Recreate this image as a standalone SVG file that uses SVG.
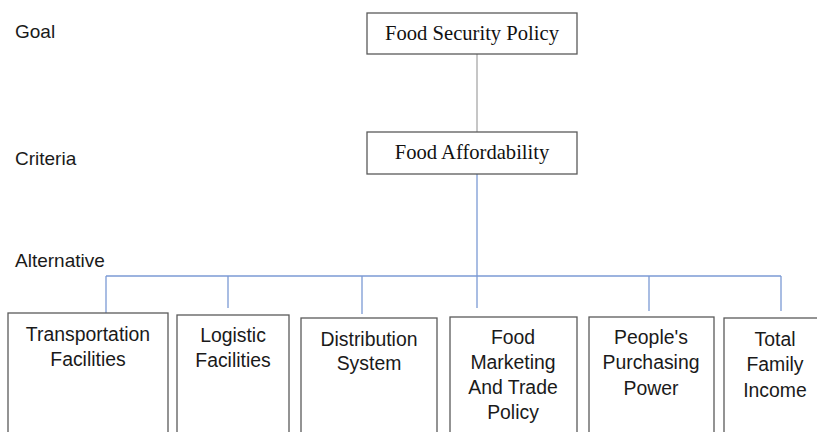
<svg xmlns="http://www.w3.org/2000/svg" width="817" height="432" viewBox="0 0 817 432">
  <style>
    .bg { fill: #ffffff; }
    .level { font-family: "Liberation Sans", Arial, sans-serif; font-size: 19px; fill: #1a1a1a; }
    .box { fill: #ffffff; stroke: #5a5a5a; stroke-width: 1.3; }
    .serif { font-family: "Liberation Serif", "Times New Roman", serif; font-size: 20.6px; fill: #111111; text-anchor: middle; }
    .sans { font-family: "Liberation Sans", Arial, sans-serif; font-size: 19.4px; fill: #1a1a1a; text-anchor: middle; }
    .grey { stroke: #a8a8a8; stroke-width: 1.3; fill: none; }
    .blue { stroke: #7b9ad4; stroke-width: 1.3; fill: none; }
  </style>

  <rect class="bg" x="0" y="0" width="817" height="432"/>

  <!-- hierarchy level labels -->
  <g id="levels">
    <text class="level" x="15" y="38">Goal</text>
    <text class="level" x="15" y="165">Criteria</text>
    <text class="level" x="15" y="267">Alternative</text>
  </g>

  <!-- connectors -->
  <g id="connectors">
    <line class="grey" x1="477" y1="54" x2="477" y2="132"/>
    <line class="blue" x1="477" y1="174" x2="477" y2="308"/>
    <line class="blue" x1="106" y1="276" x2="781" y2="276"/>
    <line class="blue" x1="106" y1="276" x2="106" y2="313"/>
    <line class="blue" x1="228" y1="276" x2="228" y2="308"/>
    <line class="blue" x1="362" y1="276" x2="362" y2="314"/>
    <line class="blue" x1="649" y1="276" x2="649" y2="311"/>
    <line class="blue" x1="781" y1="276" x2="781" y2="311"/>
  </g>

  <g id="goal">
    <rect class="box" x="367" y="13" width="210" height="41"/>
    <text class="serif" x="472" y="40">Food Security Policy</text>
  </g>

  <g id="criteria">
    <rect class="box" x="367" y="132" width="210" height="42"/>
    <text class="serif" x="472" y="159">Food Affordability</text>
  </g>

  <g id="alt-transportation">
    <rect class="box" x="8" y="313" width="160" height="140"/>
    <text class="sans" x="88" y="341">Transportation</text>
    <text class="sans" x="88" y="366">Facilities</text>
  </g>

  <g id="alt-logistic">
    <rect class="box" x="177" y="315" width="112" height="140"/>
    <text class="sans" x="233" y="342">Logistic</text>
    <text class="sans" x="233" y="367">Facilities</text>
  </g>

  <g id="alt-distribution">
    <rect class="box" x="301" y="318" width="136" height="140"/>
    <text class="sans" x="369" y="346">Distribution</text>
    <text class="sans" x="369" y="370">System</text>
  </g>

  <g id="alt-marketing">
    <rect class="box" x="450" y="317" width="127" height="140"/>
    <text class="sans" x="513" y="344">Food</text>
    <text class="sans" x="513" y="369">Marketing</text>
    <text class="sans" x="513" y="394">And Trade</text>
    <text class="sans" x="513" y="419">Policy</text>
  </g>

  <g id="alt-purchasing">
    <rect class="box" x="589" y="317" width="125" height="140"/>
    <text class="sans" x="651" y="344">People's</text>
    <text class="sans" x="651" y="369">Purchasing</text>
    <text class="sans" x="651" y="395">Power</text>
  </g>

  <g id="alt-income">
    <rect class="box" x="724" y="318" width="102" height="140"/>
    <text class="sans" x="775" y="346">Total</text>
    <text class="sans" x="775" y="371">Family</text>
    <text class="sans" x="775" y="397">Income</text>
  </g>
</svg>
